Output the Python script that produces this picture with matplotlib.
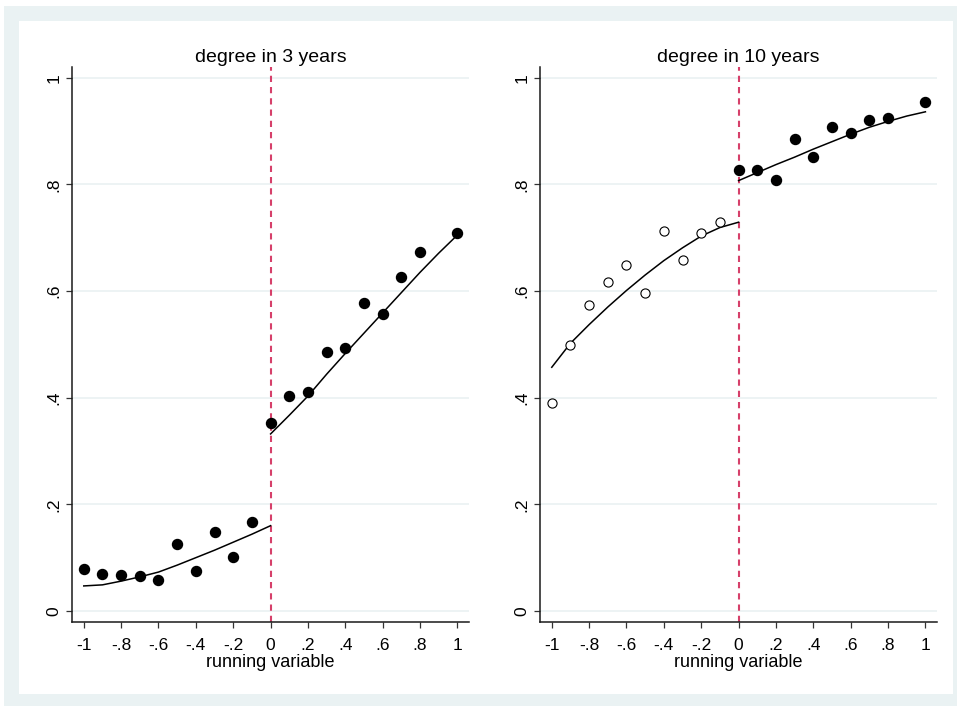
import matplotlib
matplotlib.use("Agg")
import matplotlib.pyplot as plt
from matplotlib.patches import Rectangle

plt.rcParams['font.family'] = ['Liberation Sans', 'DejaVu Sans']

# bin centres of the running variable
x_below = [-1.0, -0.9, -0.8, -0.7, -0.6, -0.5, -0.4, -0.3, -0.2, -0.1]
x_above = [0.0, 0.1, 0.2, 0.3, 0.4, 0.5, 0.6, 0.7, 0.8, 1.0]

# bin means
deg3_below = [0.079, 0.069, 0.068, 0.066, 0.059, 0.126, 0.075, 0.148, 0.101, 0.166]
deg3_above = [0.353, 0.403, 0.410, 0.485, 0.493, 0.578, 0.557, 0.627, 0.674, 0.708]
deg10_below = [0.390, 0.499, 0.573, 0.617, 0.648, 0.596, 0.712, 0.659, 0.709, 0.730]
deg10_above = [0.827, 0.827, 0.809, 0.885, 0.851, 0.907, 0.897, 0.921, 0.925, 0.954]

# polynomial fit on each side of the cutoff
fit_x_below = [-1.0, -0.9, -0.8, -0.7, -0.6, -0.5, -0.4, -0.3, -0.2, -0.1, 0.0]
fit_x_above = [0.0, 0.1, 0.2, 0.3, 0.4, 0.5, 0.6, 0.7, 0.8, 0.9, 1.0]
fit3_below = [0.047, 0.049, 0.056, 0.064, 0.073, 0.086, 0.100, 0.114, 0.129, 0.144, 0.160]
fit3_above = [0.332, 0.367, 0.403, 0.444, 0.483, 0.521, 0.559, 0.597, 0.635, 0.671, 0.705]
fit10_below = [0.457, 0.502, 0.537, 0.570, 0.601, 0.630, 0.657, 0.681, 0.703, 0.719, 0.729]
fit10_above = [0.807, 0.822, 0.837, 0.851, 0.866, 0.880, 0.894, 0.907, 0.918, 0.928, 0.936]

xticks = [-1, -0.8, -0.6, -0.4, -0.2, 0, 0.2, 0.4, 0.6, 0.8, 1]
xticklabels = ['-1', '-.8', '-.6', '-.4', '-.2', '0', '.2', '.4', '.6', '.8', '1']
yticks = [0, 0.2, 0.4, 0.6, 0.8, 1]
yticklabels = ['0', '.2', '.4', '.6', '.8', '1']

W, H = 957, 706
fig = plt.figure(figsize=(W / 100, H / 100), dpi=100)
fig.patch.set_facecolor('white')

# graph region frame, kept behind the axes
fig.patches.append(Rectangle((4 / W, 0), 1 - 4 / W, 1 - 6 / H, transform=fig.transFigure,
                             facecolor='#EAF2F3', edgecolor='none', zorder=-2))
fig.patches.append(Rectangle((19 / W, 12 / H), (953 - 19) / W, (694 - 21) / H,
                             transform=fig.transFigure, facecolor='white',
                             edgecolor='none', zorder=-1))

grid_col = '#E8F0F1'
axis_col = '#1a1a1a'


def draw_panel(left_px, title, below, above, fit_below, fit_above, hollow_below):
    ax = fig.add_axes([left_px / W, (H - 622.3) / H, 397 / W, (622.3 - 67) / H])
    ax.patch.set_alpha(0)
    ax.set_xlim(-1.063, 1.062)
    ax.set_ylim(-0.0212, 1.020)

    for y in yticks:
        ax.axhline(y, color=grid_col, lw=1.1, zorder=1)

    ax.axvline(0, color='#D6406A', lw=1.5, dashes=(3, 2.4), zorder=2)

    if hollow_below:
        ax.plot(x_below, below, 'o', ms=6.6, mfc='white', mec='black', mew=0.8, zorder=4)
    else:
        ax.plot(x_below, below, 'o', ms=7.2, color='black', zorder=4)
    ax.plot(x_above, above, 'o', ms=7.2, color='black', zorder=4)

    ax.plot(fit_x_below, fit_below, color='black', lw=1.1, zorder=3)
    ax.plot(fit_x_above, fit_above, color='black', lw=1.1, zorder=3)

    ax.set_xticks(xticks)
    ax.set_xticklabels(xticklabels)
    ax.set_yticks(yticks)
    ax.set_yticklabels(yticklabels, rotation=90, va='center')
    ax.tick_params(axis='both', direction='out', length=4.5, width=0.9,
                   color='#333333', labelsize=12.5, labelcolor='black')
    ax.tick_params(axis='x', pad=6.5)
    ax.tick_params(axis='y', pad=3)

    for side in ('top', 'right'):
        ax.spines[side].set_visible(False)
    for side in ('left', 'bottom'):
        ax.spines[side].set_color(axis_col)
        ax.spines[side].set_linewidth(1.1)

    ax.set_title(title, fontsize=14, pad=3.6)
    ax.set_xlabel('running variable', fontsize=13, labelpad=1)
    return ax


draw_panel(72, 'degree in 3 years', deg3_below, deg3_above,
           fit3_below, fit3_above, hollow_below=False)
draw_panel(540, 'degree in 10 years', deg10_below, deg10_above,
           fit10_below, fit10_above, hollow_below=True)

fig.savefig('out.png', dpi=100, facecolor=fig.get_facecolor())
